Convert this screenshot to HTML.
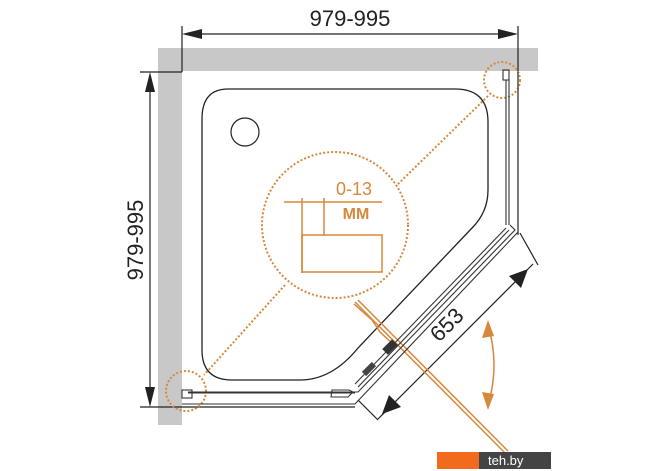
<!DOCTYPE html>
<html><head><style>body{margin:0;background:#fff}svg{display:block}</style></head><body>
<svg width="670" height="471" viewBox="0 0 670 471" xmlns="http://www.w3.org/2000/svg" font-family="Liberation Sans, sans-serif">
<rect x="158" y="48" width="380" height="23" fill="#c8c8c8"/>
<rect x="158" y="48" width="24" height="377" fill="#c8c8c8"/>
<g stroke="#222" stroke-width="1.2" fill="none">
<line x1="182" y1="26" x2="182" y2="72"/>
<line x1="518" y1="26" x2="518" y2="235"/>
<line x1="186" y1="34" x2="514" y2="34"/>
<line x1="140" y1="72" x2="182" y2="72"/>
<line x1="140" y1="407" x2="355" y2="407"/>
<line x1="150" y1="76" x2="150" y2="403"/>
<line x1="520" y1="233" x2="538" y2="265"/>
<line x1="358" y1="400" x2="378" y2="420"/>
<line x1="533" y1="264" x2="378" y2="419"/>
</g>
<polygon points="182,34 202,29 202,39" fill="#222"/>
<polygon points="518,34 498,29 498,39" fill="#222"/>
<polygon points="150,72 145,92 155,92" fill="#222"/>
<polygon points="150,407 145,387 155,387" fill="#222"/>
<polygon points="528,269 509,276 521,288" fill="#222"/>
<polygon points="382,414 389,395 401,407" fill="#222"/>
<text x="350" y="26" font-size="22" text-anchor="middle" fill="#222">979-995</text>
<text transform="translate(143,240) rotate(-90)" font-size="22" text-anchor="middle" fill="#222">979-995</text>
<text transform="translate(452,330) rotate(-45)" font-size="22" text-anchor="middle" fill="#222">653</text>
<path d="M228,89 H455 Q488,89 488,122 V190 Q488,212 472,228 L358,348 Q332,380 300,380 H232 Q202,380 202,350 V119 Q202,89 228,89 Z" fill="none" stroke="#222" stroke-width="1.3"/>
<circle cx="245" cy="132" r="14" fill="none" stroke="#222" stroke-width="1.2"/>
<g stroke="#d8883a" stroke-width="2" fill="none" stroke-dasharray="2 2">
<circle cx="335" cy="225" r="73"/>
<circle cx="502" cy="80" r="18"/>
<circle cx="186" cy="391" r="20"/>
<line x1="488" y1="96" x2="397" y2="185"/>
<line x1="285" y1="285" x2="204" y2="375"/>
</g>
<g stroke="#d8883a" stroke-width="1.5" fill="none">
<line x1="284" y1="202" x2="382" y2="202"/>
<line x1="302" y1="198" x2="302" y2="273"/>
<line x1="324" y1="198" x2="324" y2="235"/>
<rect x="302" y="235" width="80" height="37"/>
<line x1="355" y1="302" x2="505" y2="453"/>
<line x1="358" y1="300" x2="508" y2="451"/>
<path d="M354,304 L372,320 L380,332 L394,345"/>
<path d="M488,325 Q500,365 488,405"/>
</g>
<text x="354" y="195" font-size="18" fill="#d8883a" text-anchor="middle">0-13</text>
<text x="356" y="219" font-size="16" font-weight="bold" fill="#d8883a" text-anchor="middle">MM</text>
<polygon points="488,320 482,338 494,336" fill="#d8883a"/>
<polygon points="488,410 482,392 494,394" fill="#d8883a"/>
<g stroke="#333" stroke-width="1.1" fill="none">
<rect x="503" y="70" width="6" height="10"/>
<line x1="506" y1="80" x2="506" y2="225"/>
<line x1="509" y1="80" x2="509" y2="225"/>
<path d="M518,72 V232 L355,404 H182"/>
<path d="M510,225 L515,230 L358,392 H188"/>
<line x1="506" y1="228" x2="355" y2="384"/>
<line x1="509" y1="230" x2="358" y2="387"/>
<line x1="188" y1="393" x2="355" y2="393"/>
<rect x="182" y="390" width="10" height="8"/>
<path d="M331,397 H348 L353,392 L349,390 H332 Z"/>
</g>
<rect x="386" y="340" width="8" height="14" fill="#333" transform="rotate(45 390 347)"/>
<rect x="366" y="362" width="6" height="14" fill="#444" transform="rotate(45 369 369)"/>
<rect x="437" y="452" width="42" height="17" fill="#f26b1d"/>
<rect x="479" y="452" width="72" height="17" fill="#444"/>
<text x="488" y="465" font-size="13" fill="#fff">teh.by</text>
</svg>
</body></html>
